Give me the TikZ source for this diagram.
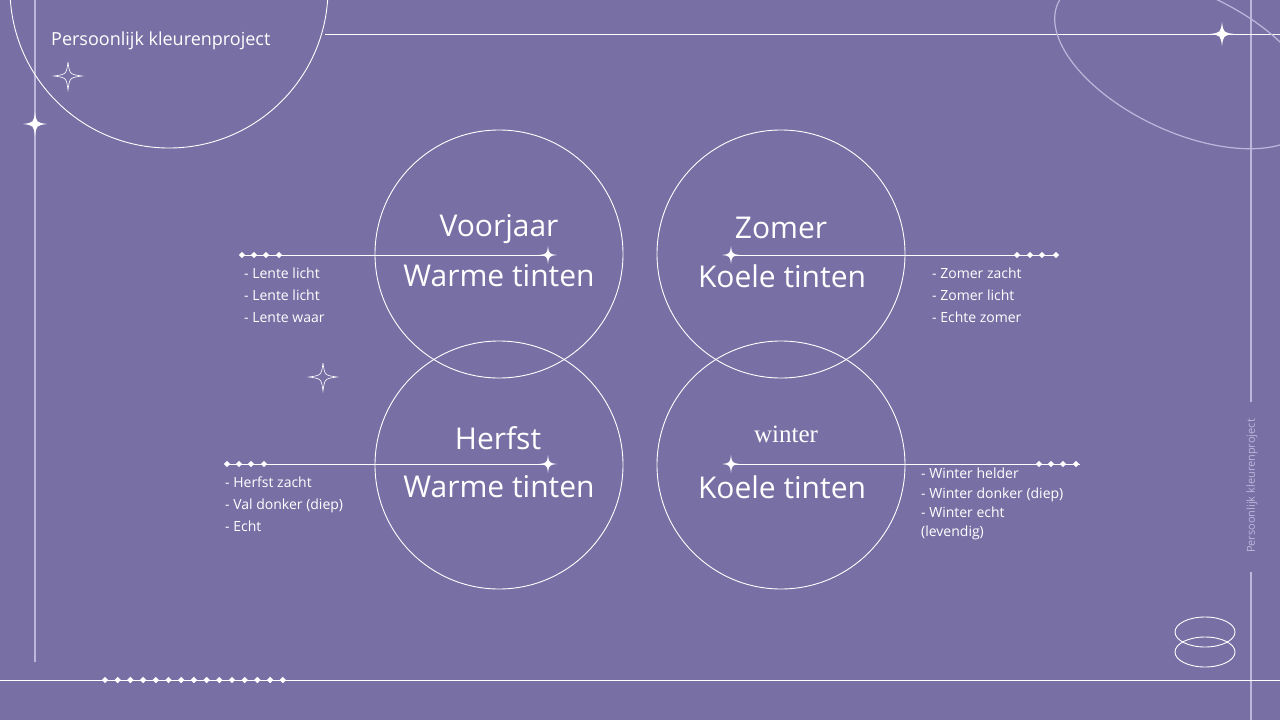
\documentclass[tikz,border=0pt]{standalone}
\usepackage{fontspec}
\setmainfont{Open Sans}
\newfontfamily\serifw{Liberation Serif}
\definecolor{bg}{HTML}{7870A5}
\definecolor{faint}{HTML}{BDB7DC}
\tikzset{
  thin line/.style={draw=white,line width=0.9pt},
  faint line/.style={draw=faint,line width=1.3pt},
  ring/.style={draw=white,line width=0.9pt},
  sparkle/.pic={\path[pic actions] (0,-1) .. controls (0.12,-0.12) .. (1,0) .. controls (0.12,0.12) .. (0,1) .. controls (-0.12,0.12) .. (-1,0) .. controls (-0.12,-0.12) .. cycle;},
  dia/.pic={\fill[white] (0,-3.2) -- (3.2,0) -- (0,3.2) -- (-3.2,0) -- cycle;},
  heading/.style={text=white,font=\fontsize{30}{30}\selectfont,anchor=center},
  items/.style={text=white,font=\fontsize{14}{22}\selectfont,anchor=north west,align=left,inner sep=0pt},
}
\begin{document}
\begin{tikzpicture}[x=1pt,y=-1pt]
\fill[bg] (0,0) rectangle (1280,720);
\useasboundingbox (0,0) rectangle (1280,720);
% frame
\draw[faint line] (35,0) -- (35,662);
\draw[faint line] (1251,0) -- (1251,402);
\draw[faint line] (1251,572) -- (1251,720);
\draw[thin line] (325,34) -- (1280,34);
\draw[thin line] (0,680) -- (1280,680);
\foreach \i in {0,...,14} {\pic at (105+12.7*\i,680) {dia};}
\draw[ring] (169,-11) circle (159);
\draw[draw=faint,line width=1.2pt] (1185,62) ellipse [x radius=140,y radius=70,rotate=-25];
\draw[ring] (1205,632) ellipse [x radius=30,y radius=15];
\draw[ring] (1205,652) ellipse [x radius=30,y radius=15];
\pic[fill=white] at (35,124) {sparkle};
\pic[fill=white,scale=12] at (35,124) {sparkle};
\pic[fill=white,scale=12] at (1222,34) {sparkle};
\pic[draw=white,line width=0.6pt,scale=14] at (68,76) {sparkle};
\pic[draw=white,line width=0.6pt,scale=14] at (323,377) {sparkle};
\node[text=white,font=\fontsize{18}{18}\selectfont,anchor=west,inner sep=0pt] (title) at (51,41) {Persoonlijk kleurenproject};
\node[text=faint,font=\fontsize{11}{11}\selectfont,rotate=90,inner sep=0pt] (vt) at (1252,486) {Persoonlijk kleurenproject};
% circles
\node[ring,circle,minimum size=248pt] (c1) at (499,254) {};
\node[ring,circle,minimum size=248pt] (c2) at (781,254) {};
\node[ring,circle,minimum size=248pt] (c3) at (499,465) {};
\node[ring,circle,minimum size=248pt] (c4) at (781,465) {};
% connector lines
\coordinate (a1) at (240,255); \coordinate (b1) at (548,255);
\coordinate (a2) at (731,255); \coordinate (b2) at (1058,255);
\coordinate (a3) at (225,464); \coordinate (b3) at (548,464);
\coordinate (a4) at (731,464); \coordinate (b4) at (1080,464);
\draw[thin line] (a1) -- (b1); \draw[thin line] (a2) -- (b2);
\draw[thin line] (a3) -- (b3); \draw[thin line] (a4) -- (b4);
\foreach \p in {b1,a2,b3,a4} {\pic[fill=white,scale=9] at (\p) {sparkle};}
\foreach \x in {242,254,266,279} {\pic at (\x,255) {dia};}
\foreach \x in {1017,1030,1042,1056} {\pic at (\x,255) {dia};}
\foreach \x in {227,239,251,264} {\pic at (\x,464) {dia};}
\foreach \x in {1039,1051,1063,1076} {\pic at (\x,464) {dia};}
% headings
\node[heading] (h1) at (499,229) {Voorjaar};
\node[heading] (t1) at (499,276) {Warme tinten};
\node[heading] (h2) at (781,228) {Zomer};
\node[heading] (t2) at (782,276) {Koele tinten};
\node[heading] (h3) at (498,438) {Herfst};
\node[heading] (t3) at (499,487) {Warme tinten};
\node[text=white,font=\serifw\fontsize{25}{25}\selectfont] (h4) at (786,434) {winter};
\node[heading] (t4) at (782,487) {Koele tinten};
% lists
\node[items] (l1) at (244,268) {- Lente licht\\- Lente licht\\- Lente waar};
\node[items] (l2) at (932,268) {- Zomer zacht\\- Zomer licht\\- Echte zomer};
\node[items] (l3) at (225,477) {- Herfst zacht\\- Val donker (diep)\\- Echt};
\node[items,font=\fontsize{14}{19.3}\selectfont] (l4) at (921,468) {- Winter helder\\- Winter donker (diep)\\- Winter echt\\(levendig)};
\end{tikzpicture}
\end{document}
